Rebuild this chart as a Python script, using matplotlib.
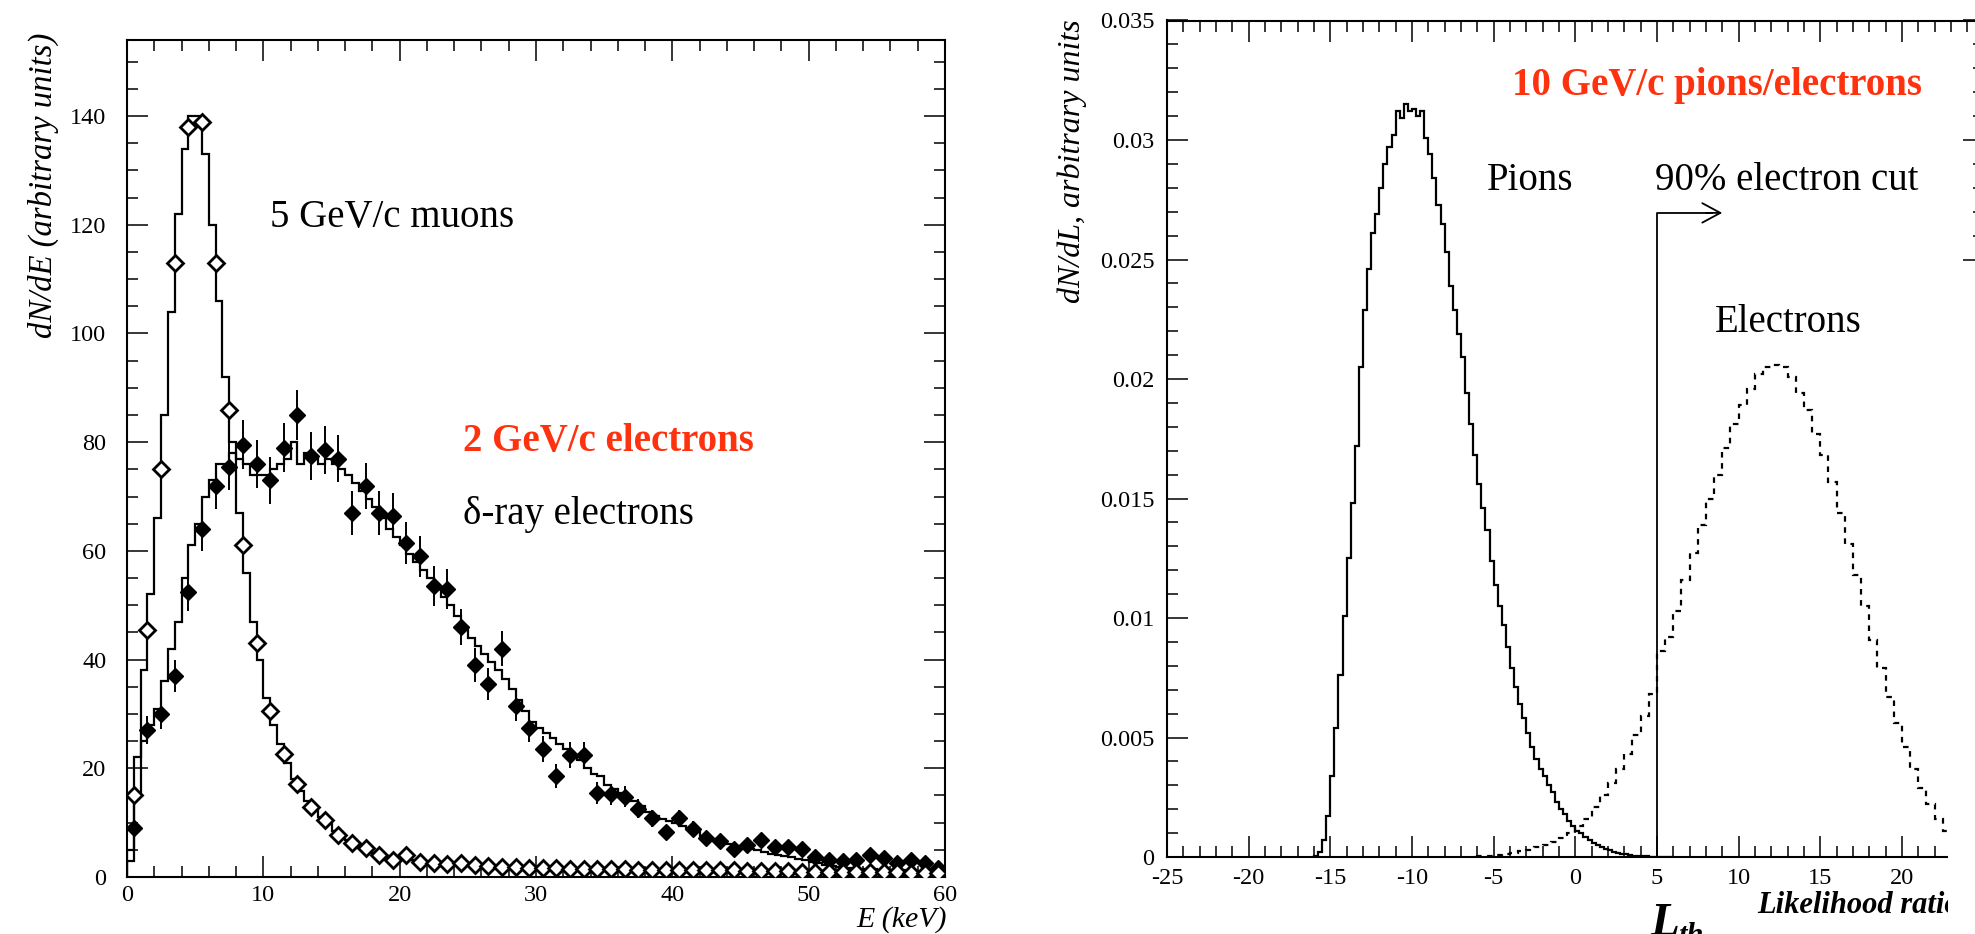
import numpy as np
import matplotlib
matplotlib.use("Agg")
import matplotlib.pyplot as plt
from matplotlib.ticker import MultipleLocator, FuncFormatter
from matplotlib.patches import Rectangle

plt.rcParams['font.family'] = ['Liberation Serif', 'DejaVu Serif']
plt.rcParams['axes.unicode_minus'] = False

# ---------------- data: left panel (dN/dE) ----------------
E_bin_width = 0.5
muon_hist = [5, 22, 38, 52, 66, 85, 104, 122, 134, 140,
             140, 133, 120, 106, 92, 80, 67, 56, 47, 40,
             33, 28, 24.5, 21, 18, 15.8, 14, 12.3, 11, 9.8,
             8.5, 7.6, 6.8, 6.1, 5.5, 5.0, 4.5, 4.1, 3.8, 3.5,
             3.3, 3.1, 2.9, 2.8, 2.7, 2.6, 2.5, 2.4, 2.3, 2.3,
             2.2, 2.2, 2.1, 2.0, 2.0, 1.9, 1.9, 1.8, 1.8, 1.8,
             1.7, 1.7, 1.7, 1.6, 1.6, 1.6, 1.6, 1.5, 1.5, 1.5,
             1.5, 1.4, 1.4, 1.4, 1.4, 1.4, 1.3, 1.3, 1.3, 1.3,
             1.3, 1.3, 1.3, 1.2, 1.2, 1.2, 1.2, 1.2, 1.2, 1.2,
             1.1, 1.1, 1.1, 1.1, 1.1, 1.1, 1.1, 1.1, 1.1, 1.1,
             1.1, 1.1, 1.0, 1.0, 1.0, 1.0, 1.0, 1.0, 1.0, 1.0,
             0.9, 0.9, 0.9, 0.9, 0.9, 0.9, 0.8, 0.8, 0.8, 0.8]
elec_hist = [3, 15, 25, 28, 31, 36, 42, 47, 55, 61,
             65, 70, 73, 76, 76, 78, 77, 76, 74, 74,
             74, 75, 76, 77, 80, 76, 78, 77, 76, 77,
             76, 75, 74, 72.5, 71, 69.5, 68, 66, 64, 62.5,
             61, 59.5, 58, 56.5, 55, 53, 51.5, 50, 48, 46,
             44, 42.5, 41, 39.5, 38, 36.5, 34.5, 32.5, 30.5, 28.5,
             27.5, 26.5, 25.5, 24.5, 23.5, 22.5, 21.5, 20, 19, 18.5,
             17, 16.2, 15.5, 14.8, 14, 13, 12, 11.2, 10.7, 10.3,
             10, 9.4, 8.8, 8.2, 7.6, 7.1, 6.8, 6.4, 6.0, 5.7,
             5.4, 5.1, 4.9, 4.6, 4.3, 4.0, 3.8, 3.6, 3.4, 3.2,
             2.8, 2.5, 2.2, 2.0, 1.8, 1.7, 1.6, 1.5, 1.4, 1.4,
             1.3, 1.3, 1.3, 1.2, 1.2, 1.1, 1.1, 1.1, 1.0, 1.0]

E_points = np.arange(60) + 0.5
muon_points = [15, 45.5, 75, 113, 138, 139, 113, 86, 61, 43,
               30.6, 22.6, 17.2, 12.8, 10.4, 7.7, 6.2, 5.3, 4.0, 3.2,
               4.0, 2.8, 2.6, 2.3, 2.6, 2.2, 2.0, 1.9, 1.8, 1.7,
               1.6, 1.6, 1.5, 1.5, 1.4, 1.4, 1.4, 1.3, 1.3, 1.3,
               1.3, 1.2, 1.2, 1.2, 1.2, 1.1, 1.1, 1.1, 1.1, 1.0,
               1.0, 1.0, 1.0, 0.9, 0.9, 0.9, 0.9, 0.8, 0.8, 0.8]
elec_points = [9, 27, 30, 37, 52.5, 64, 72, 75.5, 79.5, 76,
               73, 79, 85, 77.5, 78.5, 77, 67, 72, 67, 66.5,
               61.5, 59, 53.5, 53, 46, 39, 35.5, 42, 31.5, 27.5,
               23.5, 18.5, 22.5, 22.5, 15.5, 15.2, 14.8, 12.6, 10.8, 8.2,
               10.8, 8.8, 7.1, 6.6, 5.1, 5.9, 6.8, 5.5, 5.6, 5.1,
               3.6, 3.1, 3.0, 3.1, 4.0, 3.5, 2.6, 3.1, 2.5, 1.6]
elec_err = [1.5, 2.6, 2.7, 3.0, 3.6, 4.0, 4.2, 4.3, 4.5, 4.4,
            4.3, 4.5, 4.6, 4.4, 4.4, 4.4, 4.1, 4.2, 4.1, 4.1,
            3.9, 3.8, 3.7, 3.6, 3.4, 3.1, 3.0, 3.2, 2.8, 2.6,
            2.4, 2.2, 2.4, 2.4, 2.0, 1.9, 1.9, 1.8, 1.6, 1.4,
            1.6, 1.5, 1.3, 1.3, 1.1, 1.2, 1.3, 1.2, 1.2, 1.1,
            0.9, 0.9, 0.9, 0.9, 1.0, 0.9, 0.8, 0.9, 0.8, 0.6]

# ---------------- data: right panel (dN/dL) ----------------
pion_L_start, pion_bin_width = -16.0, 0.25
pion_hist = [0.00005, 0.0002, 0.0007, 0.0017, 0.0034, 0.0054, 0.0076, 0.0101,
             0.0125, 0.0148, 0.0172, 0.0205, 0.0229, 0.0246, 0.0261, 0.0269,
             0.0280, 0.0290, 0.0297, 0.0302, 0.0312, 0.0309, 0.0315, 0.0312,
             0.0313, 0.0310, 0.0312, 0.0301, 0.0294, 0.0284, 0.0273, 0.0265,
             0.0253, 0.0239, 0.0229, 0.0219, 0.0209, 0.0194, 0.0181, 0.0168,
             0.0156, 0.0146, 0.0137, 0.0124, 0.0114, 0.0105, 0.0097, 0.0088,
             0.0079, 0.0071, 0.0064, 0.0058, 0.0052, 0.0046, 0.0041, 0.0037,
             0.0034, 0.0030, 0.0027, 0.0023, 0.0020, 0.0018, 0.0015, 0.0013,
             0.0011, 0.0010, 0.00085, 0.0007, 0.0006, 0.0005, 0.00042, 0.00035,
             0.00028, 0.00022, 0.00018, 0.00014, 0.00011, 0.00008, 0.00006, 0.00005,
             0.00004, 0.00003, 0.00002, 0.00002, 0.00001, 0.00001, 0.00001, 0.0]
eL_start, eL_bin_width = -6.0, 0.5
electron_hist = [0.00003, 0.00005, 0.00008, 0.00011, 0.00016, 0.00024, 0.00031, 0.0004,
                 0.0005, 0.00062, 0.00078, 0.0010, 0.0013, 0.0016, 0.0021, 0.0026,
                 0.0031, 0.0037, 0.0043, 0.0051, 0.0059, 0.0068, 0.0086, 0.0092,
                 0.0103, 0.0116, 0.0127, 0.0139, 0.0150, 0.0160, 0.0171, 0.0181,
                 0.0189, 0.0196, 0.0202, 0.0205, 0.0206, 0.0205, 0.0201, 0.0194,
                 0.0187, 0.0177, 0.0168, 0.0157, 0.0144, 0.0131, 0.0118, 0.0105,
                 0.0091, 0.0079, 0.0067, 0.0056, 0.0046, 0.0037, 0.0029, 0.0022,
                 0.0016, 0.0011, 0.0008, 0.0005, 0.0003, 0.0002]
cut_L = 5.0
cut_level = 0.02695
cut_arrow_end = 9.0

# ---------------- figure ----------------
W, H = 1975, 934
fig = plt.figure(figsize=(W / 100, H / 100), dpi=100)

def fx(px):
    return px / W

def fy(py):
    return 1 - py / H

RED = '#ff3210'
ANN = 28

def style_axes(ax, xpad, ypad):
    ax.tick_params(which='both', direction='in', top=True, right=True,
                   labelsize=17.5, width=1.1, color='black')
    ax.tick_params(which='major', length=15)
    ax.tick_params(which='minor', length=8)
    ax.tick_params(axis='x', pad=xpad)
    ax.tick_params(axis='y', pad=ypad)
    for s in ax.spines.values():
        s.set_linewidth(1.5)

# Left panel
axL = fig.add_axes([fx(127), fy(877), fx(945) - fx(127), fy(40) - fy(877)])
E_edges = np.arange(len(muon_hist) + 1) * E_bin_width
axL.stairs(muon_hist, E_edges, color='black', lw=1.6)
axL.stairs(elec_hist, E_edges, color='black', lw=1.6)
axL.errorbar(E_points, elec_points, yerr=elec_err, fmt='D', color='black',
             ms=8.5, elinewidth=1.4, capsize=0, zorder=4)
axL.plot(E_points, muon_points, 'D', mfc='white', mec='black', mew=2.0,
         ms=8, ls='none', zorder=5)
axL.set_xlim(0, 60)
axL.set_ylim(0, 154)
axL.xaxis.set_major_locator(MultipleLocator(10))
axL.xaxis.set_minor_locator(MultipleLocator(2))
axL.yaxis.set_major_locator(MultipleLocator(20))
axL.yaxis.set_minor_locator(MultipleLocator(5))
style_axes(axL, 6, 15)
axL.text(10.5, 119.6, '5 GeV/c muons', fontsize=ANN, ha='left', va='baseline')
axL.text(24.65, 78.3, '2 GeV/c electrons', fontsize=ANN, fontweight='bold',
         color=RED, ha='left', va='baseline')
axL.text(24.65, 65.0, 'δ-ray electrons', fontsize=ANN, ha='left', va='baseline')
fig.text(fx(43), fy(185), 'dN/dE (arbitrary units)', rotation=90, fontsize=23.5,
         fontstyle='italic', ha='center', va='center')
fig.text(fx(947), fy(927), 'E (keV)', fontsize=21.5, fontstyle='italic',
         ha='right', va='baseline')

# Right panel
x_left, x_right = 1167, 1575.3 + 25 * 16.33
axR = fig.add_axes([fx(x_left), fy(857), fx(x_right) - fx(x_left), fy(20.5) - fy(857)])
pion_edges = pion_L_start + np.arange(len(pion_hist) + 1) * pion_bin_width
e_edges = eL_start + np.arange(len(electron_hist) + 1) * eL_bin_width
axR.stairs(pion_hist, pion_edges, color='black', lw=1.6)
axR.stairs(electron_hist, e_edges, color='black', lw=1.6, ls=(0, (2.5, 2.5)))
axR.plot([cut_L, cut_L, cut_arrow_end - 0.6], [0, cut_level, cut_level],
         color='black', lw=1.3)
axR.annotate('', xy=(cut_arrow_end, cut_level), xytext=(cut_arrow_end - 1.0, cut_level),
             arrowprops=dict(arrowstyle='->,head_length=1.3,head_width=0.7',
                             lw=1.3, color='black', shrinkA=0, shrinkB=0))
axR.set_xlim(-25, 25)
axR.set_ylim(0, 0.035)
axR.xaxis.set_major_locator(MultipleLocator(5))
axR.xaxis.set_minor_locator(MultipleLocator(1))
axR.yaxis.set_major_locator(MultipleLocator(0.005))
axR.yaxis.set_minor_locator(MultipleLocator(0.001))
axR.yaxis.set_major_formatter(FuncFormatter(lambda v, p: '%g' % round(v, 4)))
axR.xaxis.set_major_formatter(FuncFormatter(lambda v, p: '' if v > 22 else '%d' % round(v)))
style_axes(axR, 8, 9)
axR.text(-3.88, 0.03188, '10 GeV/c pions/electrons', fontsize=ANN,
         fontweight='bold', color=RED, ha='left', va='baseline')
axR.text(-5.41, 0.02791, 'Pions', fontsize=ANN, ha='left', va='baseline')
axR.text(4.88, 0.02791, '90% electron cut', fontsize=ANN, ha='left', va='baseline')
axR.text(8.55, 0.02197, 'Electrons', fontsize=ANN, ha='left', va='baseline')
fig.text(fx(1072), fy(161), 'dN/dL, arbitrary units', rotation=90, fontsize=23,
         fontstyle='italic', ha='center', va='center')
fig.text(fx(1757), fy(913), 'Likelihood ratio', fontsize=22, fontstyle='italic',
         fontweight='bold', ha='left', va='baseline')
fig.text(fx(1650), fy(903), 'L', fontsize=34, fontstyle='italic',
         fontweight='bold', ha='left', va='top')
fig.text(fx(1678), fy(922), 'th', fontsize=22, fontstyle='italic',
         fontweight='bold', ha='left', va='top')

# blank strip at the right edge (the original scan is cut there)
fig.add_artist(Rectangle((fx(1948), 0), 1 - fx(1948), fy(272), transform=fig.transFigure,
                         facecolor='white', edgecolor='none', zorder=10))

fig.savefig('out.png', dpi=100)
